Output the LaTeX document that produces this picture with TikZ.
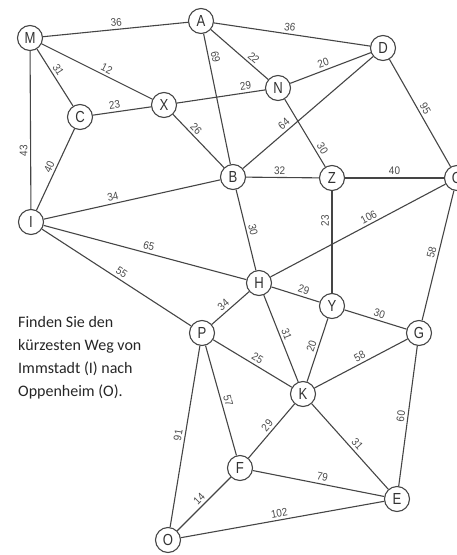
\documentclass[tikz,border=0pt]{standalone}
\usepackage{fontspec}
\newfontfamily\nodefont[FakeStretch=0.82]{Liberation Sans}
\newfontfamily\lblfont[FakeStretch=0.9]{Liberation Sans}
\newfontfamily\txtfont{Carlito}
\definecolor{lineg}{HTML}{454545}
\definecolor{lblg}{HTML}{4A4A4A}
\definecolor{nodeg}{HTML}{333333}
\definecolor{txtg}{HTML}{262626}
\begin{document}
\begin{tikzpicture}[x=1pt,y=-1pt,
  v/.style={circle, draw=lineg, line width=1.1pt, fill=white, minimum size=25pt, inner sep=0pt,
            font=\nodefont\fontsize{16}{16}\selectfont, text=nodeg},
  e/.style={draw=lineg, line width=1.1pt},
  w/.style={sloped, above, inner sep=2.5pt, font=\lblfont\fontsize{11}{11}\selectfont, text=lblg},
  wv/.style={rotate=90, anchor=south, inner sep=2.5pt, font=\lblfont\fontsize{11}{11}\selectfont, text=lblg},
  txt/.style={anchor=base west, inner sep=0pt, font=\txtfont\fontsize{16}{16}\selectfont, text=txtg}
]
\useasboundingbox (0,0) rectangle (456,555);
% vertices
\node[v] (M) at (30,38) {M};
\node[v] (A) at (201,21) {A};
\node[v] (D) at (383,48) {D};
\node[v] (N) at (278,88) {N};
\node[v] (X) at (164,105) {X};
\node[v] (C) at (80,117) {C};
\node[v] (B) at (233,177) {B};
\node[v] (Z) at (332,178) {Z};
\node[v] (Or) at (457,178) {O};
\node[v] (I) at (31,222) {I};
\node[v] (H) at (259,283) {H};
\node[v] (Y) at (332,306) {Y};
\node[v] (G) at (419,333) {G};
\node[v] (P) at (202,333) {P};
\node[v] (K) at (303,394) {K};
\node[v] (F) at (240,468) {F};
\node[v] (E) at (397,499) {E};
\node[v] (O) at (168,540) {O};
% edges
\draw[e] (M) -- node[w,pos=.51]{36} (A);
\draw[e] (A) -- node[w,pos=.48]{36} (D);
\draw[e] (A) -- node[w,pos=.67]{22} (N);
\draw[e] (A) -- node[w,pos=.19]{69} (B);
\draw[e] (M) -- node[w,pos=.43]{31} (C);
\draw[e] (M) -- node[w,pos=.56]{12} (X);
\draw[e] (I) -- node[wv,pos=.37]{43} (M);
\draw[e] (C) -- node[w,pos=.39]{23} (X);
\draw[e] (I) -- node[w,pos=.5]{40} (C);
\draw[e] (X) -- node[w,pos=.79]{29} (N);
\draw[e] (X) -- node[w,pos=.355]{26} (B);
\draw[e] (N) -- node[w,pos=.44]{20} (D);
\draw[e] (N) -- node[w,pos=.785]{30} (Z);
\draw[e] (B) -- node[w,pos=.35]{64} (D);
\draw[e] (D) -- node[w,pos=.49]{95} (Or);
\draw[e] (B) -- node[w,pos=.46]{32} (Z);
\draw[e] (Z) -- node[w,pos=.5]{40} (Or);
\draw[e] (I) -- node[w,pos=.40]{34} (B);
\draw[e] (I) -- node[w,pos=.51]{65} (H);
\draw[e] (I) -- node[w,pos=.51]{55} (P);
\draw[e] (B) -- node[w,pos=.52]{30} (H);
\draw[e] (Y) -- node[wv,pos=.71]{23} (Z);
\draw[e] (H) -- node[w,pos=.58]{106} (Or);
\draw[e] (G) -- node[w,pos=.51]{58} (Or);
\draw[e] (H) -- node[w,pos=.63]{29} (Y);
\draw[e] (Y) -- node[w,pos=.53]{30} (G);
\draw[e] (P) -- node[w,pos=.43]{34} (H);
\draw[e] (H) -- node[w,pos=.48]{31} (K);
\draw[e] (K) -- node[w,pos=.53]{20} (Y);
\draw[e] (P) -- node[w,pos=.52]{25} (K);
\draw[e] (K) -- node[w,pos=.52]{58} (G);
\draw[e] (P) -- node[w,pos=.52]{57} (F);
\draw[e] (O) -- node[w,pos=.5]{91} (P);
\draw[e] (F) -- node[w,pos=.52]{29} (K);
\draw[e] (K) -- node[w,pos=.53]{31} (E);
\draw[e] (E) -- node[w,pos=.49]{60} (G);
\draw[e] (F) -- node[w,pos=.52]{79} (E);
\draw[e] (O) -- node[w,pos=.5]{14} (F);
\draw[e] (O) -- node[w,pos=.49]{102} (E);
% text
\node[txt] (t1) at (18,327) {Finden Sie den};
\node[txt] (t2) at (18,350) {kürzesten Weg von};
\node[txt] (t3) at (18,373) {Immstadt (I) nach};
\node[txt] (t4) at (18,396) {Oppenheim (O).};
\end{tikzpicture}
\end{document}
